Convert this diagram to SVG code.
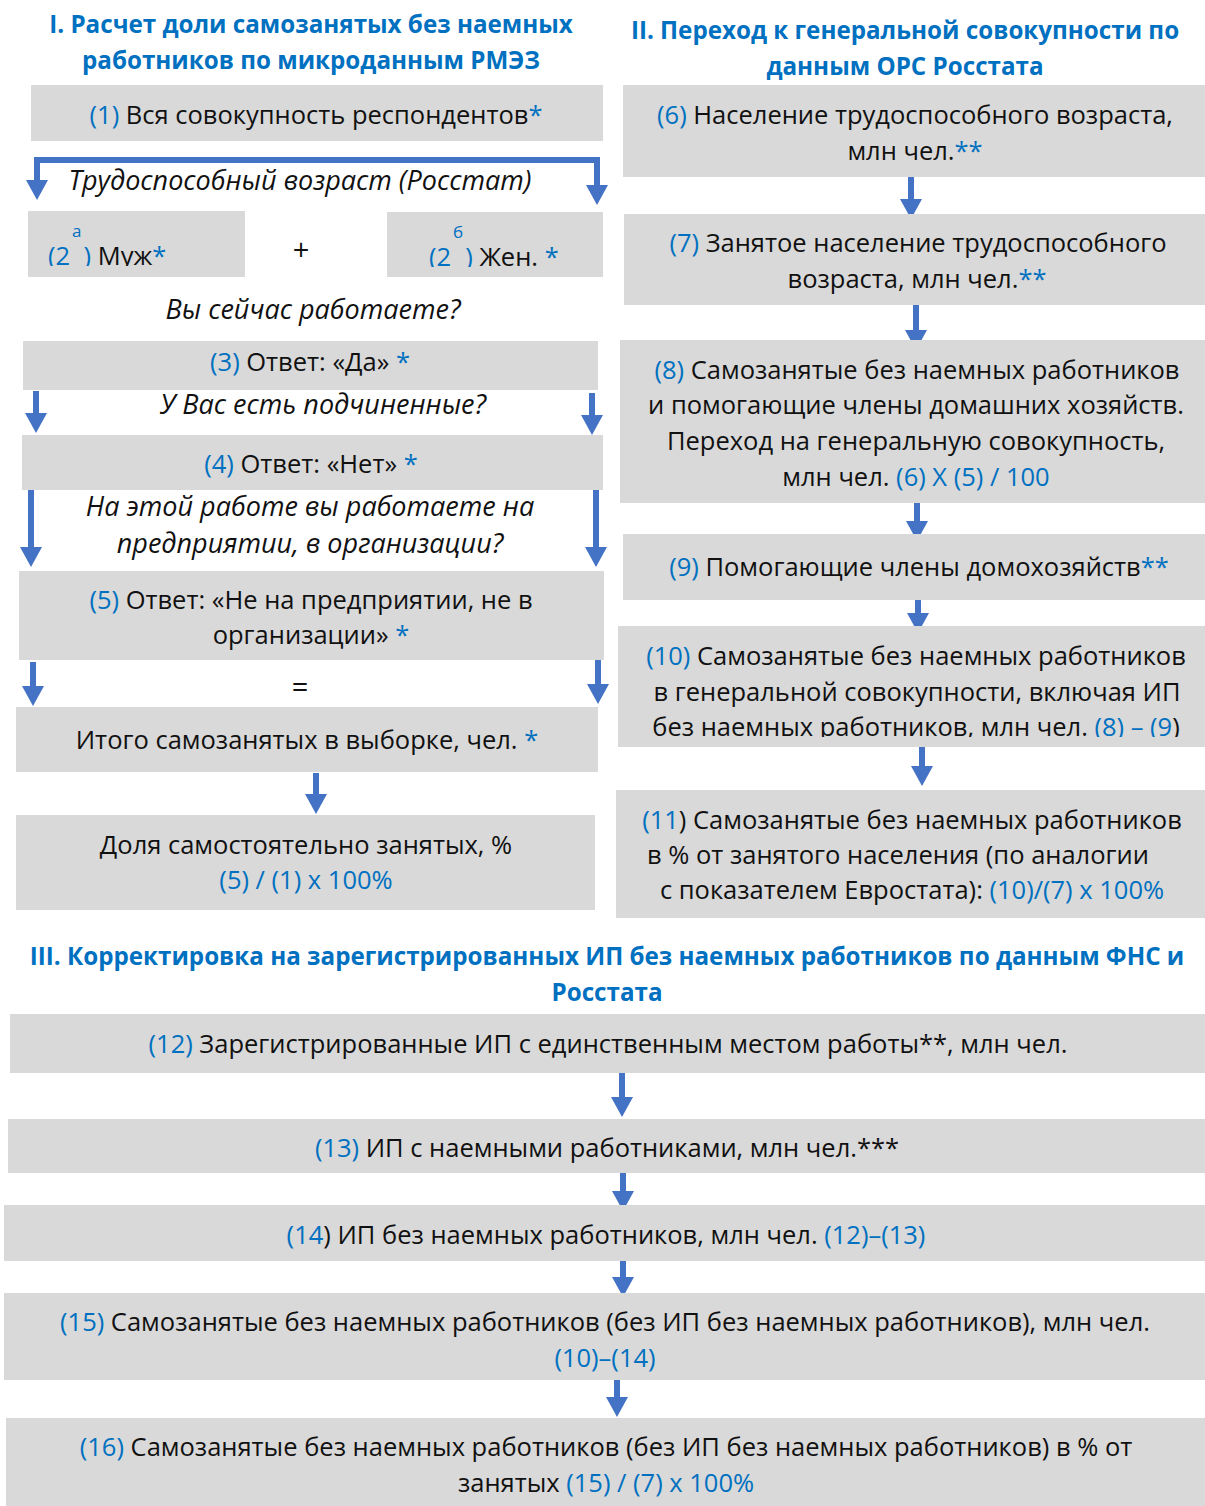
<svg xmlns="http://www.w3.org/2000/svg" width="1205" height="1506" viewBox="0 0 1205 1506">
<style>
text{font-family:"Open Sans","Noto Sans","DejaVu Sans",sans-serif;font-size:25.5px;fill:#111;}
.t{text-anchor:middle;}
.h{font-weight:bold;fill:#0070C0;text-anchor:middle;font-size:24.2px;}
.i{font-style:italic;text-anchor:middle;font-size:27px;}
.op{text-anchor:middle;font-size:29px;}
.b{fill:#0070C0;}
.box{fill:#D9D9D9;}
.sup{font-size:17px;fill:#0070C0;}
.arr{stroke:#4472C4;stroke-width:6;fill:none;marker-end:url(#ah);}
</style>
<defs>
<marker id="ah" viewBox="0 0 20 22" markerWidth="20" markerHeight="22" refX="5" refY="11" orient="auto" markerUnits="userSpaceOnUse"><path d="M0,0 L20,11 L0,22 z" fill="#4472C4"/></marker>
<marker id="ahs" viewBox="0 0 20 22" markerWidth="20" markerHeight="22" refX="5" refY="11" orient="auto-start-reverse" markerUnits="userSpaceOnUse"><path d="M0,0 L20,11 L0,22 z" fill="#4472C4"/></marker>
<clipPath id="c2a"><rect x="28" y="211" width="217" height="55"/></clipPath>
<clipPath id="c2b"><rect x="387" y="212" width="216" height="55"/></clipPath>
<clipPath id="c10"><rect x="618" y="626" width="587" height="111"/></clipPath>
</defs>

<g id="titles">
<text class="h" x="311" y="33">I. Расчет доли самозанятых без наемных</text>
<text class="h" x="311" y="69">работников по микроданным РМЭЗ</text>
<text class="h" x="905" y="39">II. Переход к генеральной совокупности по</text>
<text class="h" x="905" y="75">данным ОРС Росстата</text>
<text class="h" x="607" y="965">III. Корректировка на зарегистрированных ИП без наемных работников по данным ФНС и</text>
<text class="h" x="607" y="1001">Росстата</text>
</g>

<g id="labels">
<text class="i" x="300" y="190">Трудоспособный возраст (Росстат)</text>
<text class="op" x="301" y="260">+</text>
<text class="i" x="313" y="319">Вы сейчас работаете?</text>
<text class="i" x="323" y="414">У Вас есть подчиненные?</text>
<text class="i" x="310" y="516">На этой работе вы работаете на</text>
<text class="i" x="310" y="553">предприятии, в организации?</text>
<text class="op" x="300" y="697">=</text>
</g>

<g id="connectors">
<path d="M37,185 V160 H597 V190" stroke="#4472C4" stroke-width="6" fill="none" marker-start="url(#ahs)" marker-end="url(#ah)"/>
<line class="arr" x1="36" y1="391" x2="36" y2="418"/>
<line class="arr" x1="592" y1="393" x2="592" y2="420"/>
<line class="arr" x1="31" y1="490" x2="31" y2="552"/>
<line class="arr" x1="596" y1="490" x2="596" y2="552"/>
<line class="arr" x1="33" y1="662" x2="33" y2="691"/>
<line class="arr" x1="598" y1="660" x2="598" y2="689"/>
<line class="arr" x1="316" y1="773" x2="316" y2="799"/>
<line class="arr" x1="911" y1="176" x2="911" y2="204"/>
<line class="arr" x1="916" y1="305" x2="916" y2="335"/>
<line class="arr" x1="917" y1="497" x2="917" y2="526"/>
<line class="arr" x1="918" y1="589" x2="918" y2="618"/>
<line class="arr" x1="922" y1="742" x2="922" y2="771"/>
<line class="arr" x1="622" y1="1073" x2="622" y2="1102"/>
<line class="arr" x1="623" y1="1167" x2="623" y2="1196"/>
<line class="arr" x1="623" y1="1253" x2="623" y2="1282"/>
<line class="arr" x1="617" y1="1373" x2="617" y2="1402"/>
</g>

<g id="n1"><rect class="box" x="31" y="85" width="572" height="56"/>
<text class="t" x="316" y="124"><tspan class="b">(1)</tspan> Вся совокупность респондентов<tspan class="b">*</tspan></text></g>

<g id="n2a"><rect class="box" x="28" y="211" width="217" height="66"/>
<text x="48" y="265" clip-path="url(#c2a)"><tspan class="b">(2</tspan><tspan class="sup" dx="2" dy="-28">а</tspan><tspan class="b" dx="2" dy="28">)</tspan> Муж<tspan class="b">*</tspan></text></g>

<g id="n2b"><rect class="box" x="387" y="212" width="216" height="65"/>
<text x="429" y="266" clip-path="url(#c2b)"><tspan class="b">(2</tspan><tspan class="sup" dx="2" dy="-28">б</tspan><tspan class="b" dx="2" dy="28">)</tspan> Жен. <tspan class="b">*</tspan></text></g>

<g id="n3"><rect class="box" x="23" y="341" width="575" height="49"/>
<text class="t" x="310" y="371"><tspan class="b">(3)</tspan> Ответ: «Да» <tspan class="b">*</tspan></text></g>

<g id="n4"><rect class="box" x="22" y="435" width="581" height="55"/>
<text class="t" x="311" y="473"><tspan class="b">(4)</tspan> Ответ: «Нет» <tspan class="b">*</tspan></text></g>

<g id="n5"><rect class="box" x="19" y="571" width="585" height="89"/>
<text class="t" x="311" y="609"><tspan class="b">(5)</tspan> Ответ: «Не на предприятии, не в</text>
<text class="t" x="311" y="644">организации» <tspan class="b">*</tspan></text></g>

<g id="nsum"><rect class="box" x="16" y="707" width="582" height="65"/>
<text class="t" x="307" y="749">Итого самозанятых в выборке, чел. <tspan class="b">*</tspan></text></g>

<g id="nshare"><rect class="box" x="16" y="815" width="579" height="95"/>
<text class="t" x="306" y="854">Доля самостоятельно занятых, %</text>
<text class="t b" x="306" y="889">(5) / (1) x 100%</text></g>

<g id="n6"><rect class="box" x="623" y="85" width="582" height="92"/>
<text class="t" x="915" y="124"><tspan class="b">(6)</tspan> Население трудоспособного возраста,</text>
<text class="t" x="915" y="160">млн чел.<tspan class="b">**</tspan></text></g>

<g id="n7"><rect class="box" x="624" y="214" width="581" height="91"/>
<text class="t" x="918" y="252"><tspan class="b">(7)</tspan> Занятое население трудоспособного</text>
<text class="t" x="917" y="288">возраста, млн чел.<tspan class="b">**</tspan></text></g>

<g id="n8"><rect class="box" x="620" y="340" width="585" height="163"/>
<text class="t" x="917" y="379"><tspan class="b">(8)</tspan> Самозанятые без наемных работников</text>
<text class="t" x="916" y="414">и помогающие члены домашних хозяйств.</text>
<text class="t" x="916" y="450">Переход на генеральную совокупность,</text>
<text class="t" x="916" y="486">млн чел. <tspan class="b">(6) X (5) / 100</tspan></text></g>

<g id="n9"><rect class="box" x="623" y="534" width="582" height="66"/>
<text class="t" x="919" y="576"><tspan class="b">(9)</tspan> Помогающие члены домохозяйств<tspan class="b">**</tspan></text></g>

<g id="n10"><rect class="box" x="618" y="626" width="587" height="121"/>
<text class="t" x="916" y="665"><tspan class="b">(10)</tspan> Самозанятые без наемных работников</text>
<text class="t" x="917" y="701">в генеральной совокупности, включая ИП</text>
<text class="t" x="916" y="736" clip-path="url(#c10)">без наемных работников, млн чел.  <tspan class="b">(8) – (9</tspan>)</text></g>

<g id="n11"><rect class="box" x="616" y="790" width="589" height="128"/>
<text class="t" x="912" y="829"><tspan class="b">(11</tspan>) Самозанятые без наемных работников</text>
<text class="t" x="898" y="864">в % от занятого населения (по аналогии</text>
<text class="t" x="912" y="899">с показателем Евростата): <tspan class="b">(10)/(7) x 100%</tspan></text></g>

<g id="n12"><rect class="box" x="10" y="1014" width="1195" height="59"/>
<text class="t" x="608" y="1053"><tspan class="b">(12)</tspan> Зарегистрированные ИП с единственным местом работы**, млн чел.</text></g>

<g id="n13"><rect class="box" x="8" y="1119" width="1197" height="54"/>
<text class="t" x="607" y="1157"><tspan class="b">(13)</tspan> ИП с наемными работниками, млн чел.***</text></g>

<g id="n14"><rect class="box" x="4" y="1205" width="1201" height="56"/>
<text class="t" x="606" y="1244"><tspan class="b">(14</tspan>) ИП без наемных работников, млн чел. <tspan class="b">(12)–(13)</tspan></text></g>

<g id="n15"><rect class="box" x="4" y="1293" width="1201" height="87"/>
<text class="t" x="605" y="1331"><tspan class="b">(15)</tspan> Самозанятые без наемных работников (без ИП без наемных работников), млн чел.</text>
<text class="t b" x="605" y="1367">(10)–(14)</text></g>

<g id="n16"><rect class="box" x="6" y="1418" width="1199" height="88"/>
<text class="t" x="606" y="1456"><tspan class="b">(16)</tspan> Самозанятые без наемных работников (без ИП без наемных работников) в % от</text>
<text class="t" x="606" y="1492">занятых <tspan class="b">(15) / (7) x 100%</tspan></text></g>
</svg>
